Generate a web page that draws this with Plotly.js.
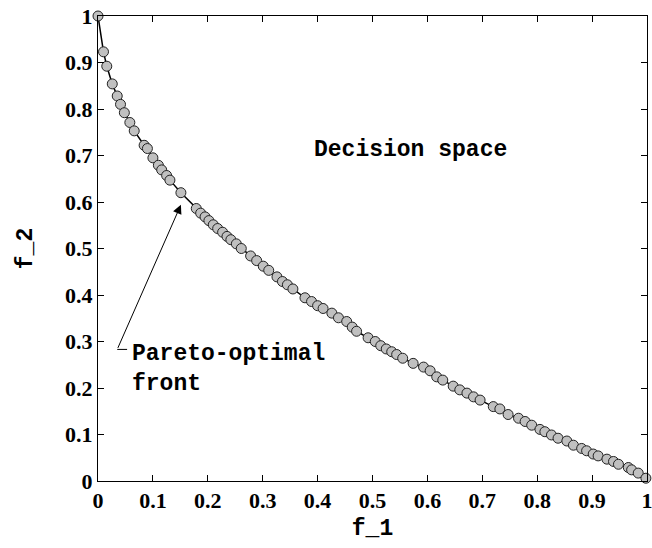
<!DOCTYPE html>
<html>
<head>
<meta charset="utf-8">
<script src="https://cdn.plot.ly/plotly-3.0.1.min.js"></script>
<style>html,body{margin:0;padding:0;background:#fff;}#chart{width:652px;height:548px;}</style>
</head>
<body>
<div id="chart"></div>
<script>
// Values
const f1 = [0.000, 0.010, 0.016, 0.026, 0.035, 0.041, 0.048, 0.058, 0.066, 0.084,
            0.090, 0.100, 0.110, 0.116, 0.125, 0.131, 0.151, 0.179, 0.187, 0.195,
            0.202, 0.210, 0.218, 0.227, 0.235, 0.242, 0.252, 0.261, 0.278, 0.289,
            0.301, 0.311, 0.326, 0.336, 0.345, 0.355, 0.377, 0.389, 0.400, 0.410,
            0.426, 0.438, 0.453, 0.463, 0.471, 0.492, 0.505, 0.515, 0.525, 0.535,
            0.544, 0.555, 0.574, 0.593, 0.605, 0.617, 0.628, 0.647, 0.659, 0.672,
            0.684, 0.696, 0.720, 0.732, 0.747, 0.766, 0.778, 0.790, 0.805, 0.814,
            0.826, 0.838, 0.854, 0.866, 0.881, 0.890, 0.902, 0.911, 0.927, 0.939,
            0.948, 0.966, 0.972, 0.984, 0.998];
const f2 = [1.000, 0.923, 0.892, 0.854, 0.828, 0.810, 0.792, 0.771, 0.753, 0.722,
            0.715, 0.695, 0.679, 0.669, 0.657, 0.647, 0.620, 0.586, 0.576, 0.568,
            0.560, 0.551, 0.543, 0.535, 0.526, 0.519, 0.510, 0.500, 0.484, 0.474,
            0.462, 0.453, 0.439, 0.429, 0.422, 0.413, 0.394, 0.386, 0.377, 0.371,
            0.361, 0.351, 0.343, 0.331, 0.322, 0.308, 0.300, 0.291, 0.284, 0.278,
            0.272, 0.264, 0.253, 0.245, 0.237, 0.224, 0.217, 0.204, 0.196, 0.189,
            0.181, 0.174, 0.160, 0.155, 0.143, 0.135, 0.128, 0.120, 0.111, 0.106,
            0.099, 0.092, 0.086, 0.077, 0.070, 0.065, 0.058, 0.054, 0.047, 0.042,
            0.036, 0.029, 0.024, 0.017, 0.006];
const tickVals = [0, 0.1, 0.2, 0.3, 0.4, 0.5, 0.6, 0.7, 0.8, 0.9, 1];
const tickText = ['0', '0.1', '0.2', '0.3', '0.4', '0.5', '0.6', '0.7', '0.8', '0.9', '1'];
const xTitle = 'f_1';
const yTitle = 'f_2';
const regionLabel = 'Decision space';
const frontLabel = 'Pareto-optimal<br>front';
const arrowHead = [0.151, 0.594];
const arrowTail = [0.035, 0.283];

const mono = 'Liberation Mono, Courier New, monospace';
const serif = 'Liberation Serif, Times New Roman, serif';

const trace = {
  x: f1, y: f2, type: 'scatter', mode: 'lines+markers',
  line: {color: '#000', width: 1.5},
  marker: {size: 10, color: '#c0c0c0', line: {color: '#222', width: 1}},
  cliponaxis: false, showlegend: false, hoverinfo: 'skip'
};

const axisCommon = {
  range: [0, 1], tickvals: tickVals, ticktext: tickText,
  ticks: 'inside', ticklen: 6, tickwidth: 1, tickcolor: '#000',
  showline: true, linecolor: '#000', linewidth: 1, mirror: 'allticks',
  showgrid: false, zeroline: false, fixedrange: true,
  ticklabeloverflow: 'allow',
  tickfont: {family: serif, size: 22, color: '#000', weight: 'bold'}
};

const layout = {
  width: 652, height: 548,
  margin: {l: 98, r: 5, t: 16, b: 67},
  paper_bgcolor: '#fff', plot_bgcolor: '#fff',
  xaxis: Object.assign({}, axisCommon, {
    title: {text: xTitle, font: {family: mono, size: 23, color: '#000', weight: 'bold'}, standoff: 6}
  }),
  yaxis: Object.assign({}, axisCommon, {
    title: {text: yTitle, font: {family: mono, size: 23, color: '#000', weight: 'bold'}, standoff: 26}
  }),
  annotations: [
    {x: 0.570, y: 0.712, xref: 'x', yref: 'y', text: regionLabel, showarrow: false,
     font: {family: mono, size: 23, color: '#000', weight: 'bold'}, xanchor: 'center', yanchor: 'middle'},
    {x: 0.058, y: 0.241, xref: 'x', yref: 'y', text: frontLabel, showarrow: false, align: 'left',
     font: {family: mono, size: 23, color: '#000', weight: 'bold'}, xanchor: 'left', yanchor: 'middle'},
    {x: arrowHead[0], y: arrowHead[1], ax: arrowTail[0], ay: arrowTail[1], xref: 'x', yref: 'y',
     axref: 'x', ayref: 'y', text: '', showarrow: true, arrowhead: 2, arrowsize: 1.8, arrowwidth: 1,
     arrowcolor: '#000', standoff: 0}
  ],
  shapes: [
    {type: 'line', xref: 'x', yref: 'y', x0: arrowTail[0], y0: arrowTail[1], x1: arrowTail[0] + 0.018, y1: arrowTail[1],
     line: {color: '#000', width: 1}}
  ]
};

Plotly.newPlot('chart', [trace], layout, {displayModeBar: false, staticPlot: true});
</script>
</body>
</html>
